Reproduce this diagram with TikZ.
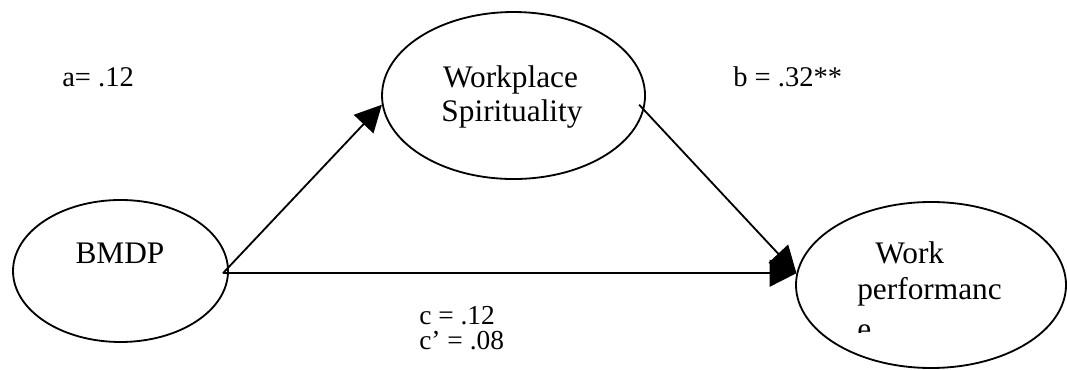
\documentclass[tikz,border=0pt]{standalone}
\usepackage{fontspec}
\setmainfont{Liberation Serif}
\usetikzlibrary{arrows.meta,shapes.geometric}

\tikzset{
  latent/.style={draw, ellipse, line width=1.3pt, inner sep=0pt},
  vartext/.style={font=\fontsize{22.3}{25.6}\selectfont, inner sep=0pt},
  coef/.style={font=\fontsize{20.3}{22}\selectfont, anchor=base west, inner sep=0pt},
  effect/.style={line width=1.3pt, -{Triangle[length=19pt,width=19pt]}}
}

\begin{document}
\begin{tikzpicture}
\useasboundingbox (0,0) rectangle (26.675,-9.250);
% the three variables
\node[latent, minimum width=5.375cm, minimum height=3.550cm] (bmdp) at (3.013,-6.775) {};
\node[latent, minimum width=6.575cm, minimum height=4.175cm] (ws) at (12.838,-2.388) {};
\node[latent, minimum width=6.750cm, minimum height=4.150cm] (wp) at (23.275,-7.125) {};
\node[vartext, anchor=base] (bmdpname) at (3.000,-6.600) {BMDP};
\node[vartext, anchor=base] (wsname1) at (12.763,-2.200) {Workplace};
\node[vartext, anchor=base] (wsname2) at (12.800,-3.050) {Spirituality};
\begin{scope}
\clip (21.000,-5.500) rectangle (25.800,-8.325);
\node[vartext, anchor=base west] (wpname1) at (21.875,-6.600) {Work};
\node[vartext, anchor=base west] (wpname2) at (21.425,-7.500) {performanc};
\node[vartext, anchor=base west] (wpname3) at (21.425,-8.500) {e};
\end{scope}
% paths
\coordinate (hub) at (wp.175);
\coordinate (tail) at ([xshift=-0.150cm]bmdp.east |- hub);
\draw[effect] (tail) -- (ws.184);
\draw[effect] ([xshift=-0.150cm]ws.-4) -- (hub);
\draw[effect] (tail) -- (hub);
% coefficients
\node[coef] (apath) at (1.550,-2.175) {a= .12};
\node[coef] (bpath) at (18.325,-2.175) {b = .32**};
\node[coef, font=\fontsize{19.5}{17.6}\selectfont, anchor=north west, align=left] (cpath) at (10.475,-7.660) {c = .12\\c’ = .08};
\end{tikzpicture}
\end{document}
